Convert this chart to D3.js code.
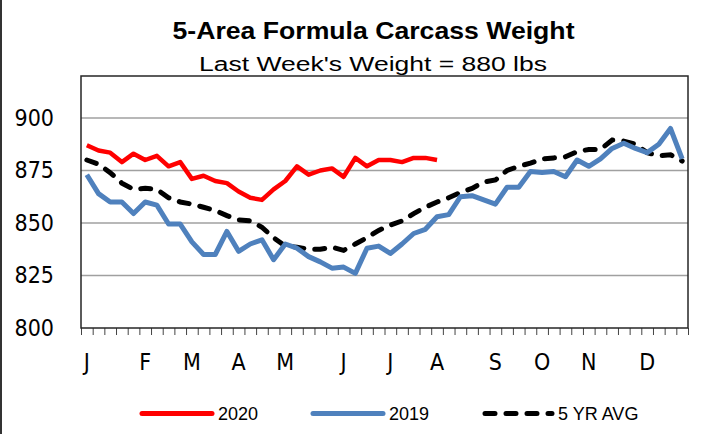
<!DOCTYPE html>
<html lang="en">
<head>
<meta charset="UTF-8">
<title>5-Area Formula Carcass Weight</title>
<script src="https://d3js.org/d3.v7.min.js"></script>
<style>
  body { margin: 0; background: #fff; }
  svg { display: block; }
  .axis text { font-family: "DejaVu Sans Condensed", "DejaVu Sans", sans-serif; font-stretch: condensed; }
</style>
</head>
<body>
<script>
// weekly carcass weights (lbs)
var weeks = d3.range(1, 53);
var months = ["J", "F", "M", "A", "M", "J", "J", "A", "S", "O", "N", "D"];
var monthWeek = [0, 5, 9, 13, 17, 22, 26, 30, 35, 39, 43, 48];
var yTicks = [800, 825, 850, 875, 900];

var y2020 = [887, 884.5, 883.5, 879, 883, 880, 882, 877, 879, 871, 872.5, 870, 869, 865, 862, 861,
  866, 870, 877, 873, 875, 876, 872, 881, 877, 880, 880, 879, 881, 881, 880];
var y2019 = [873, 864, 860, 860, 854.5, 860, 858.5, 849.5, 849.5, 841, 835, 835, 846, 836.5, 840, 842,
  832.5, 840, 838, 834, 831.5, 828.5, 829, 826, 838, 839, 835.5, 840, 845, 847, 853, 854,
  862.5, 863, 861, 859, 867, 867, 874.5, 874, 874.5, 872, 880, 877, 880.5, 885.5, 888, 885.5,
  883.5, 887.5, 895, 880.5];
var avg5 = [880, 878, 874, 869, 866, 866.5, 866, 862, 860, 859, 857.5, 856, 853.5, 851.5, 851, 848,
  843, 839, 838.5, 837.5, 837.5, 838.5, 837, 840, 843, 846.5, 849, 851, 854.5, 857.5, 860, 862,
  864.5, 866.5, 869.5, 870.5, 875, 877, 878.5, 880.5, 881, 881.5, 884, 885, 885, 889.5, 889, 887.5,
  883.5, 882, 882.5, 879.5];

var W = 704, H = 434;
var plotL = 81, plotR = 688, plotT = 76, plotB = 328;

var svg = d3.select("body").append("svg")
  .attr("width", W)
  .attr("height", H);

// left edge line of the picture frame
svg.append("line")
  .attr("x1", 1).attr("x2", 1)
  .attr("y1", 0).attr("y2", H)
  .attr("stroke", "#333")
  .attr("stroke-width", 2);

var x = d3.scaleBand().domain(weeks).range([plotL, plotR]);
var xEdge = d3.scaleLinear().domain([0, weeks.length]).range([plotL, plotR]);
var y = d3.scaleLinear().domain([800, 920]).range([plotB, plotT]);

// gridlines
svg.append("g").selectAll("line")
  .data(yTicks.filter(function(d) { return d > 800; }))
  .enter().append("line")
  .attr("x1", plotL).attr("x2", plotR)
  .attr("y1", function(d) { return y(d); })
  .attr("y2", function(d) { return y(d); })
  .attr("stroke", "#a0a0a0")
  .attr("stroke-width", 1.6);

// y axis labels
var yAxis = svg.append("g")
  .attr("class", "axis")
  .attr("transform", "translate(" + plotL + ",0)")
  .call(d3.axisLeft(y).tickValues(yTicks).tickSize(0).tickPadding(27));
yAxis.select(".domain").remove();
yAxis.selectAll("text")
  .attr("font-size", 23)
  .attr("fill", "#000");

// x axis tick marks at week boundaries
var xAxis = svg.append("g")
  .attr("class", "axis")
  .attr("transform", "translate(0," + plotB + ")")
  .call(d3.axisBottom(xEdge).tickValues(d3.range(weeks.length + 1)).tickSize(7).tickFormat(""));
xAxis.select(".domain").remove();
xAxis.selectAll("line").attr("stroke", "#444").attr("stroke-width", 1);

// month labels
svg.append("g")
  .attr("class", "axis")
  .selectAll("text")
  .data(months)
  .enter().append("text")
  .attr("x", function(d, i) { return x(weeks[monthWeek[i]]) + x.bandwidth() / 2; })
  .attr("y", 370)
  .attr("text-anchor", "middle")
  .attr("font-size", 23)
  .text(function(d) { return d; });

// plot frame
svg.append("rect")
  .attr("x", plotL).attr("y", plotT)
  .attr("width", plotR - plotL).attr("height", plotB - plotT)
  .attr("fill", "none")
  .attr("stroke", "#262626")
  .attr("stroke-width", 1.5);

var line = d3.line()
  .x(function(d, i) { return x(weeks[i]) + x.bandwidth() / 2; })
  .y(function(d) { return y(d); });

svg.append("path")
  .datum(avg5)
  .attr("d", line)
  .attr("fill", "none")
  .attr("stroke", "#000")
  .attr("stroke-width", 5)
  .attr("stroke-linecap", "round")
  .attr("stroke-dasharray", "10,11");

svg.append("path")
  .datum(y2019)
  .attr("d", line)
  .attr("fill", "none")
  .attr("stroke", "#4f81bd")
  .attr("stroke-width", 5)
  .attr("stroke-linejoin", "round");

svg.append("path")
  .datum(y2020)
  .attr("d", line)
  .attr("fill", "none")
  .attr("stroke", "#ff0000")
  .attr("stroke-width", 4.5)
  .attr("stroke-linejoin", "round");

// titles
svg.append("text")
  .attr("x", 373.5).attr("y", 39)
  .attr("text-anchor", "middle")
  .attr("font-family", "Liberation Sans, Arial, sans-serif")
  .attr("font-weight", "bold")
  .attr("font-size", 24)
  .attr("textLength", 402)
  .attr("lengthAdjust", "spacingAndGlyphs")
  .text("5-Area Formula Carcass Weight");

svg.append("text")
  .attr("x", 373).attr("y", 70.5)
  .attr("text-anchor", "middle")
  .attr("font-family", "Liberation Sans, Arial, sans-serif")
  .attr("font-size", 20)
  .attr("textLength", 348)
  .attr("lengthAdjust", "spacingAndGlyphs")
  .text("Last Week's Weight = 880 lbs");

// legend
var legend = [
  { name: "2020", color: "#ff0000", dash: null, x0: 142, x1: 212 },
  { name: "2019", color: "#4f81bd", dash: null, x0: 313, x1: 383 },
  { name: "5 YR AVG", color: "#000", dash: "10,11", x0: 485, x1: 552 }
];
var lg = svg.append("g").selectAll("g").data(legend).enter().append("g");
lg.append("line")
  .attr("x1", function(d) { return d.x0; })
  .attr("x2", function(d) { return d.x1; })
  .attr("y1", 413.5).attr("y2", 413.5)
  .attr("stroke", function(d) { return d.color; })
  .attr("stroke-width", 5)
  .attr("stroke-linecap", "round")
  .attr("stroke-dasharray", function(d) { return d.dash; });
lg.append("text")
  .attr("x", function(d) { return d.x1 + 6; })
  .attr("y", 419.5)
  .attr("font-family", "Liberation Sans, Arial, sans-serif")
  .attr("font-size", 18)
  .text(function(d) { return d.name; });
</script>
</body>
</html>
